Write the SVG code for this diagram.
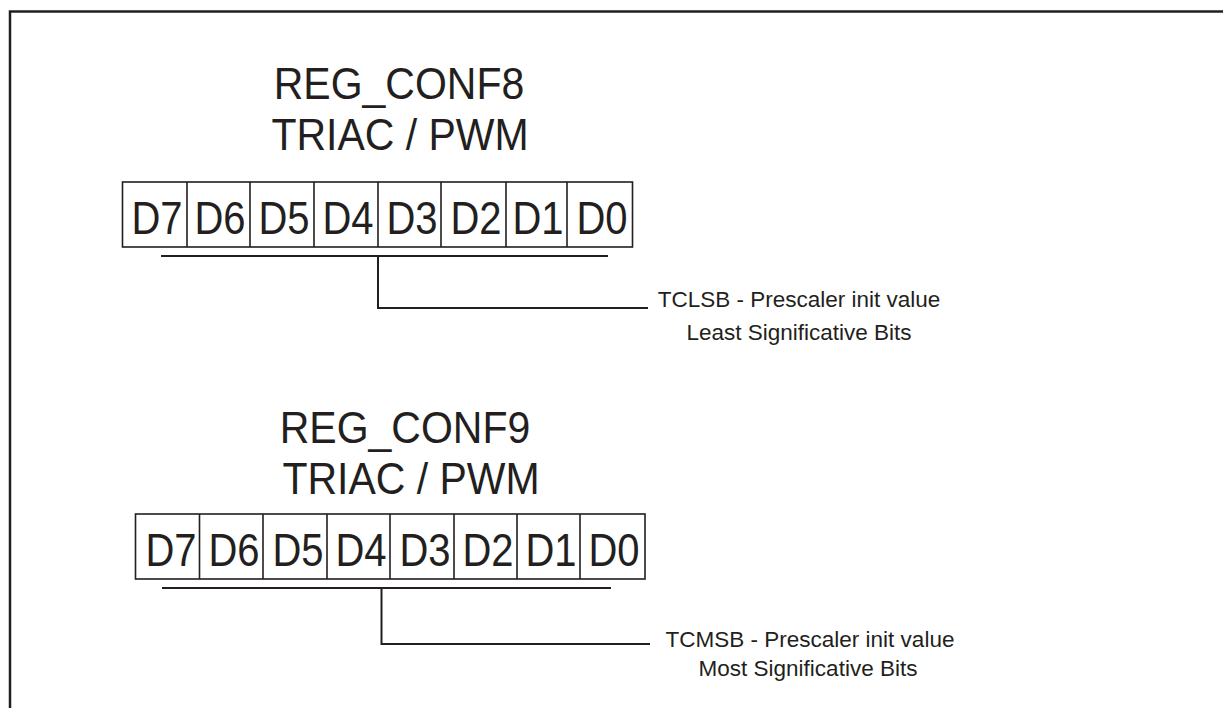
<svg xmlns="http://www.w3.org/2000/svg" width="1223" height="708" viewBox="0 0 1223 708">
<style>
.t{font-family:"Liberation Sans",Arial,sans-serif;fill:#231f20}
.title{font-size:41px;text-anchor:middle}
.bit{font-size:40px;text-anchor:middle}
.lbl{font-size:22.5px;text-anchor:middle}
.box{fill:#fff;stroke:#231f20;stroke-width:1.6}
.ln{fill:none;stroke:#231f20;stroke-width:2}
</style>
<rect width="1223" height="708" fill="#fff"/>
<path d="M10,708 V11.5 H1223" fill="none" stroke="#231f20" stroke-width="2.5"/>

<g id="reg8">
<text class="t title" transform="translate(399,99) scale(1,1.1)">REG_CONF8</text>
<text class="t title" transform="translate(400,150) scale(1,1.1)">TRIAC / PWM</text>
<rect class="box" x="122.5" y="182" width="510" height="65"/>
<path class="box" d="M187,182V247M250,182V247M314,182V247M378,182V247M441,182V247M506,182V247M567,182V247"/>
<g class="t bit">
<text transform="translate(157,234) scale(1,1.15)">D7</text>
<text transform="translate(220,234) scale(1,1.15)">D6</text>
<text transform="translate(284,234) scale(1,1.15)">D5</text>
<text transform="translate(348,234) scale(1,1.15)">D4</text>
<text transform="translate(412,234) scale(1,1.15)">D3</text>
<text transform="translate(476,234) scale(1,1.15)">D2</text>
<text transform="translate(538,234) scale(1,1.15)">D1</text>
<text transform="translate(602,234) scale(1,1.15)">D0</text>
</g>
</g>

<g id="label8">
<text class="t lbl" x="799" y="307">TCLSB - Prescaler init value</text>
<text class="t lbl" x="799" y="340">Least Significative Bits</text>
</g>

<g id="reg9">
<text class="t title" transform="translate(405,443) scale(1,1.1)">REG_CONF9</text>
<text class="t title" transform="translate(411,494) scale(1,1.1)">TRIAC / PWM</text>
<rect class="box" x="135.5" y="514" width="509.5" height="65"/>
<path class="box" d="M199.5,514V579M263,514V579M327,514V579M390,514V579M454,514V579M517,514V579M580,514V579"/>
<g class="t bit">
<text transform="translate(171,566) scale(1,1.15)">D7</text>
<text transform="translate(234,566) scale(1,1.15)">D6</text>
<text transform="translate(298,566) scale(1,1.15)">D5</text>
<text transform="translate(361,566) scale(1,1.15)">D4</text>
<text transform="translate(425,566) scale(1,1.15)">D3</text>
<text transform="translate(488,566) scale(1,1.15)">D2</text>
<text transform="translate(551,566) scale(1,1.15)">D1</text>
<text transform="translate(614,566) scale(1,1.15)">D0</text>
</g>
</g>

<g id="label9">
<text class="t lbl" x="810" y="647">TCMSB - Prescaler init value</text>
<text class="t lbl" x="808" y="676">Most Significative Bits</text>
</g>

<g id="connectors">
<path class="ln" d="M161,256H608M378,256V308H648"/>
<path class="ln" d="M162,588H611M381.5,588V644H650"/>
</g>
</svg>
